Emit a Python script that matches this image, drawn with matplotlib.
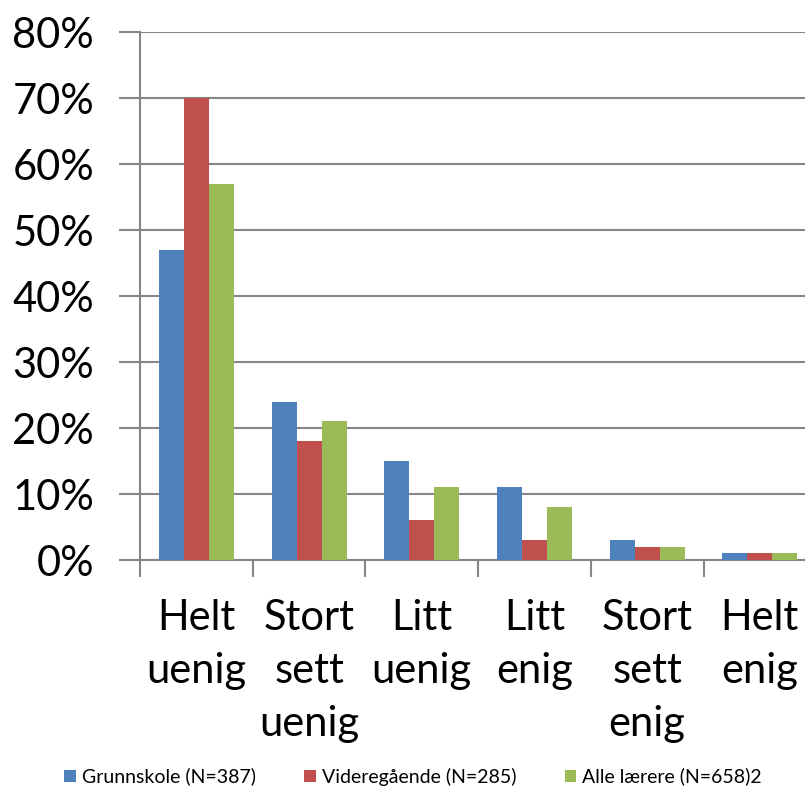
import matplotlib.pyplot as plt
import numpy as np

kategorier = ['Helt\nuenig', 'Stort\nsett\nuenig', 'Litt\nuenig', 'Litt\nenig', 'Stort\nsett\nenig', 'Helt\nenig']
grunnskole = [0.47, 0.24, 0.15, 0.11, 0.03, 0.01]
videregaende = [0.70, 0.18, 0.06, 0.03, 0.02, 0.01]
alle = [0.57, 0.21, 0.11, 0.08, 0.02, 0.01]
serier = ['Grunnskole (N=387)', 'Videregående (N=285)', 'Alle lærere (N=658)2']
farger = ['#4F81BD', '#C0504D', '#9BBB59']

plt.rcParams['font.family'] = ['Lato', 'DejaVu Sans']

fig = plt.figure(figsize=(8.05, 7.92), dpi=100)
ax = fig.add_axes([140/805, 1 - 560/792, 665/805, 528/792])

x = np.arange(len(kategorier))
w = 0.222
for i, (vals, navn, c) in enumerate(zip([grunnskole, videregaende, alle], serier, farger)):
    ax.bar(x + (i - 1) * w, vals, w, color=c, label=navn, zorder=3)

ax.set_ylim(0, 0.8)
ax.set_xlim(-0.5, -0.5 + 665/112.7)
yt = np.arange(0, 0.81, 0.1)
ax.set_yticks(yt)
ax.set_yticklabels([f'{int(round(v*100))}%' for v in yt], fontsize=30)
ax.yaxis.grid(True, color='#868686', linewidth=1.5, zorder=0)
ax.tick_params(axis='y', length=15, width=1.5, color='#868686', pad=18)

ax.set_xticks(np.arange(0, 6) - 0.5)
ax.set_xticklabels([])
ax.set_xticks(x, minor=True)
ax.set_xticklabels(kategorier, minor=True, fontsize=30, linespacing=1.48, va='top')
ax.tick_params(axis='x', which='major', length=12, width=1.5, color='#868686')
ax.tick_params(axis='x', which='minor', length=0, pad=28)

for s in ['top', 'right']:
    ax.spines[s].set_visible(False)
for s in ['left', 'bottom']:
    ax.spines[s].set_color('#868686')
    ax.spines[s].set_linewidth(1.5)

fig.legend(loc='lower center', bbox_to_anchor=(0.513, -0.014), ncol=3, frameon=False,
           fontsize=14, handlelength=0.6, handleheight=0.6, handletextpad=0.3, columnspacing=2.5)

fig.savefig('out.png', dpi=100)
